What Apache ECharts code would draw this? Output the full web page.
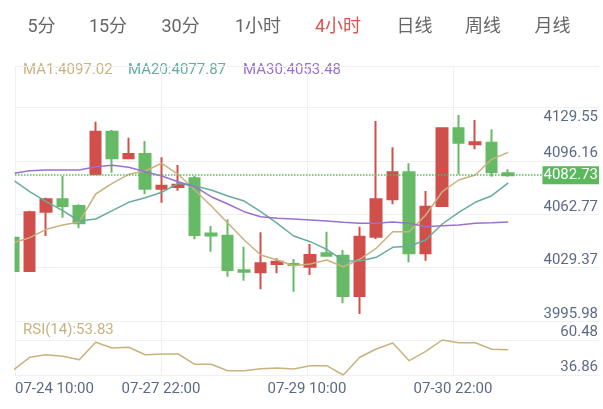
<!DOCTYPE html>
<html><head><meta charset="utf-8">
<script src="https://cdn.jsdelivr.net/npm/echarts@6/dist/echarts.min.js"></script>
<style>html,body{margin:0;padding:0;background:#fff}#c{width:603px;height:409px}</style>
</head><body><div id="c"></div>
<script>
// ---------- data ----------
const tabs = ['5分','15分','30分','1小时','4小时','日线','周线','月线'];
const activeTab = '4小时';
const times = ['07-24 10:00','07-24 14:00','07-24 18:00','07-24 22:00','07-25 02:00','07-27 06:00','07-27 10:00','07-27 14:00','07-27 18:00','07-27 22:00',
  '07-28 02:00','07-28 06:00','07-28 10:00','07-28 14:00','07-28 18:00','07-28 22:00','07-29 02:00','07-29 06:00','07-29 10:00','07-29 14:00',
  '07-29 18:00','07-29 22:00','07-30 02:00','07-30 06:00','07-30 10:00','07-30 14:00','07-30 18:00','07-30 22:00','07-31 02:00','07-31 06:00','07-31 10:00'];
const opens  = [4043.64,4022.82,4059.90,4067.65,4063.46,4083.30,4109.90,4093.30,4095.97,4074.30,4075.34,4080.78,4046.26,4044.89,4023.25,4022.00,4027.19,4027.19,4025.50,4033.88,4032.38,4007.18,4044.26,4067.65,4084.53,4033.88,4063.46,4112.04,4102.04,4103.04,4083.90];
const closes = [4022.82,4059.52,4067.65,4063.46,4052.64,4109.90,4093.30,4095.97,4074.30,4076.15,4076.78,4045.33,4045.00,4023.44,4022.38,4027.63,4028.63,4026.57,4032.82,4032.38,4007.18,4044.26,4067.65,4084.53,4033.88,4063.02,4112.04,4103.04,4103.29,4084.53,4082.73];
const lows   = [4022.50,4022.60,4044.70,4056.14,4049.50,4083.10,4084.28,4093.20,4070.77,4065.50,4073.00,4042.64,4034.88,4019.25,4016.75,4011.37,4021.38,4009.87,4020.30,4031.76,4002.62,3995.98,4042.83,4064.52,4028.25,4029.26,4063.02,4083.28,4098.91,4081.78,4081.78];
const highs  = [4044.00,4060.52,4068.65,4082.20,4064.50,4116.20,4110.98,4106.16,4104.10,4093.90,4089.10,4082.40,4050.96,4055.14,4038.00,4047.00,4030.76,4030.32,4039.70,4047.39,4035.95,4050.51,4116.60,4100.16,4090.16,4072.84,4112.67,4120.36,4117.23,4111.42,4086.40];
const ma1  = [4040.51,4043.64,4048.89,4051.58,4053.46,4070.96,4077.65,4083.28,4085.34,4090.16,4083.28,4073.46,4063.46,4052.83,4042.20,4032.82,4029.70,4026.13,4027.19,4029.70,4025.50,4030.13,4037.00,4047.39,4047.39,4057.83,4072.40,4079.72,4082.84,4092.66,4097.02];
const ma20 = [4079.72,4072.40,4066.15,4060.52,4054.08,4055.33,4060.52,4065.77,4068.65,4072.02,4077.65,4075.96,4073.46,4069.71,4066.58,4059.90,4052.64,4044.70,4041.14,4036.37,4029.26,4029.07,4031.38,4037.63,4038.26,4042.20,4052.20,4059.52,4065.77,4069.90,4077.87];
const ma30 = [4083.90,4085.53,4085.97,4085.97,4085.97,4088.03,4088.90,4087.66,4084.90,4082.22,4078.65,4075.53,4069.27,4064.71,4059.90,4056.77,4055.77,4055.33,4054.70,4054.08,4053.27,4052.64,4052.64,4053.46,4052.64,4050.52,4051.14,4051.58,4052.64,4053.02,4053.48];
const rsi  = [40.10,48.81,50.56,49.48,47.19,58.93,55.08,55.55,50.56,51.03,51.03,44.08,44.08,39.76,39.76,41.11,41.58,40.91,43.14,43.14,36.86,48.81,54.41,58.46,46.51,52.85,60.48,58.66,58.66,54.20,53.83];
const priceLabels = ['3995.98','4029.37','4062.77','4096.16','4129.55'];
const rsiLabels = ['36.86','60.48'];

// ---------- styles / layout ----------
const FONT = 'Roboto, "Noto Sans CJK SC", sans-serif';
const RED = '#d14f4b', GREEN = '#66ba66';
const C_MA1 = '#c8b280', C_MA20 = '#68ab9f', C_MA30 = '#9a71cc';
const AXIS_TXT = '#5d6a85', GRID_LINE = '#f0f0f0';
const X_MIN = 0.109, X_MAX = 35.5;
const xStep = (X_MAX - X_MIN) / 4;
const xTicks = [0,1,2,3].map(k => X_MIN + k * xStep);
const Y_MIN = 3991.55, Y_MAX = 4151.0, Y_STEP = 33.3925;
const yGrid = [0,1,2,3,4].map(k => Y_MIN + k * Y_STEP).concat([Y_MAX]);
const R_MIN = 36.86, R_MAX = 72.63;
const last = closes.length - 1;

const kData = opens.map((o, i) => [i, o, closes[i], lows[i], highs[i]]);
const toXY = arr => arr.map((v, i) => [i, v]);

const tabX = [41.5,108,180.6,258,338,414.5,483,552.6];
const graphics = tabs.map((t, i) => ({
  type: 'text', x: tabX[i], y: 27, silent: true,
  style: { text: t, fill: t === activeTab ? '#d9534f' : '#666', font: '18px ' + FONT, align: 'center', verticalAlign: 'middle' }
}));
// white mask: hides the part of the first (scrolled-out) candle left of the plot edge
graphics.push({ type: 'rect', z: 100, silent: true, shape: { x: 0, y: 66, width: 14.5, height: 256 }, style: { fill: '#fff' } });
[['MA1', ma1, C_MA1, 23], ['MA20', ma20, C_MA20, 128], ['MA30', ma30, C_MA30, 243]].forEach(([n, arr, c, x]) => {
  graphics.push({ type: 'text', x: x, y: 70, silent: true,
    style: { text: n + ':' + arr[arr.length-1].toFixed(2), fill: c, font: '15px ' + FONT, align: 'left', verticalAlign: 'middle' } });
});
graphics.push({ type: 'text', x: 23, y: 330, silent: true,
  style: { text: 'RSI(14):' + rsi[rsi.length-1].toFixed(2), fill: C_MA1, font: '15px ' + FONT, align: 'left', verticalAlign: 'middle' } });

const chart = echarts.init(document.getElementById('c'), null, { renderer: 'canvas' });
chart.setOption({
  animation: false,
  backgroundColor: '#fff',
  graphic: graphics,
  grid: [
    { left: 15, right: 4, top: 66, height: 255 },
    { left: 15, right: 4, top: 322, height: 53 }
  ],
  xAxis: [
    { type: 'value', gridIndex: 0, min: X_MIN, max: X_MAX,
      axisLine: { show: false }, axisTick: { show: false, customValues: xTicks },
      axisLabel: { show: false }, splitLine: { show: true, lineStyle: { color: GRID_LINE, width: 1 } } },
    { type: 'value', gridIndex: 1, min: X_MIN, max: X_MAX,
      axisLine: { show: false }, axisTick: { show: false, customValues: xTicks },
      axisLabel: { show: true, customValues: xTicks, formatter: v => times[Math.round(v)] || '',
        alignMinLabel: 'left', color: AXIS_TXT, fontSize: 15, fontFamily: FONT, margin: 7 },
      splitLine: { show: true, lineStyle: { color: GRID_LINE, width: 1 } } }
  ],
  yAxis: [
    { type: 'value', gridIndex: 0, position: 'right', min: Y_MIN, max: Y_MAX, scale: true,
      axisLine: { show: false }, axisTick: { show: false, customValues: yGrid },
      splitLine: { show: true, lineStyle: { color: GRID_LINE, width: 1 } },
      axisLabel: { inside: true, margin: 1, customValues: priceLabels.map(Number),
        formatter: v => { const s = v.toFixed(2); return (s === priceLabels[priceLabels.length-1] ? '{t|' : '{n|') + s + '}'; },
        rich: {
          n: { color: AXIS_TXT, fontSize: 15, fontFamily: FONT, padding: [0,0,0,0] },
          t: { color: AXIS_TXT, fontSize: 15, fontFamily: FONT, padding: [34,0,0,0] }
        } } },
    { type: 'value', gridIndex: 1, position: 'right', min: R_MIN, max: R_MAX,
      axisLine: { show: false }, axisTick: { show: false, customValues: rsiLabels.map(Number) },
      splitLine: { show: true, lineStyle: { color: GRID_LINE, width: 1 } },
      axisLabel: { inside: true, margin: 1, customValues: rsiLabels.map(Number),
        formatter: v => '{n|' + v.toFixed(2) + '}',
        rich: { n: { color: AXIS_TXT, fontSize: 15, fontFamily: FONT, padding: [0,0,16,0] } } } }
  ],
  series: [
    { type: 'candlestick', xAxisIndex: 0, yAxisIndex: 0, data: kData,
      encode: { x: 0, y: [1,2,3,4] }, barWidth: 11,
      itemStyle: { color: RED, color0: GREEN, borderColor: RED, borderColor0: GREEN, borderWidth: 2 },
      markLine: { symbol: ['none','none'], silent: true, animation: false,
        data: [{ yAxis: closes[last] }],
        lineStyle: { color: '#5cb85c', type: 'dotted', width: 1.5 },
        label: { position: 'insideEnd', distance: 0, formatter: p => Number(p.value).toFixed(2),
          backgroundColor: '#5cb85c', color: '#fff', fontSize: 15, fontFamily: FONT, padding: [2,1,1,1] } } },
    { type: 'line', name: 'MA1', xAxisIndex: 0, yAxisIndex: 0, data: toXY(ma1), showSymbol: false, symbol: 'none',
      lineStyle: { color: C_MA1, width: 1.5 } },
    { type: 'line', name: 'MA20', xAxisIndex: 0, yAxisIndex: 0, data: toXY(ma20), showSymbol: false, symbol: 'none',
      lineStyle: { color: C_MA20, width: 1.5 } },
    { type: 'line', name: 'MA30', xAxisIndex: 0, yAxisIndex: 0, data: toXY(ma30), showSymbol: false, symbol: 'none',
      lineStyle: { color: C_MA30, width: 1.5 } },
    { type: 'line', name: 'RSI', xAxisIndex: 1, yAxisIndex: 1, data: toXY(rsi), showSymbol: false, symbol: 'none',
      lineStyle: { color: C_MA1, width: 1.5 } }
  ]
});
</script></body></html>
